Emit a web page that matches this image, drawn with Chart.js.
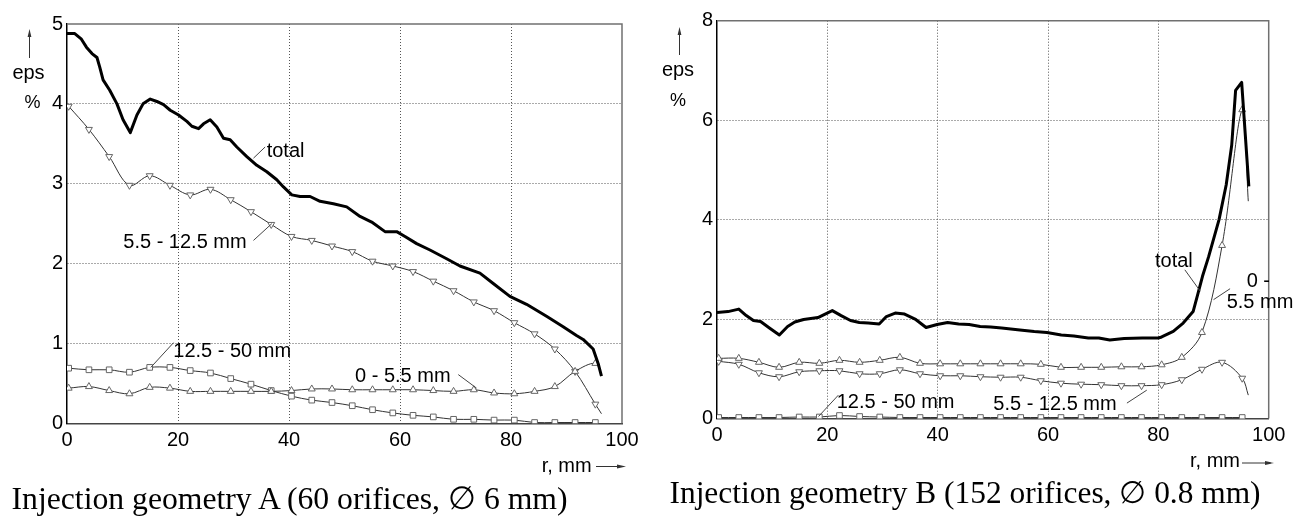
<!DOCTYPE html>
<html><head><meta charset="utf-8">
<script src="https://cdn.jsdelivr.net/npm/chart.js@4.4.0/dist/chart.umd.min.js"></script>
<style>
html,body{margin:0;padding:0;background:#fff;}
body{width:1311px;height:516px;overflow:hidden;position:relative;}
.box{position:absolute;}
.lab{position:absolute;white-space:nowrap;line-height:1;color:#000;font-family:"Liberation Sans",Arial,sans-serif;}
.serif{font-family:"Liberation Serif","Times New Roman",serif;}
svg{position:absolute;left:0;top:0;pointer-events:none;}
</style></head><body>
<div class="box" style="left:0;top:0;width:650px;height:470px"><canvas id="chartA"></canvas></div>
<div class="box" style="left:660px;top:0;width:651px;height:470px"><canvas id="chartB"></canvas></div>
<svg width="1311" height="516">
  <g stroke="#333" stroke-width="1" fill="#333">
    <line x1="29.5" y1="58" x2="29.5" y2="34"/><polygon points="29.5,29 27.6,37 31.4,37" stroke="none"/>
    <line x1="679.5" y1="55" x2="679.5" y2="32"/><polygon points="679.5,27 677.6,35 681.4,35" stroke="none"/>
    <line x1="596" y1="466.5" x2="621" y2="466.5"/><polygon points="626,466.5 617,464.6 617,468.4" stroke="none"/>
    <line x1="1242" y1="463" x2="1269" y2="463"/><polygon points="1274,463 1265,461.1 1265,464.9" stroke="none"/>
  </g>
</svg>
<script>
// ---------- data ----------
const xTicks = [0, 20, 40, 60, 80, 100];
const yTicksA = [0, 1, 2, 3, 4, 5];
const yTicksB = [0, 2, 4, 6, 8];

// radial positions of the marked points (both geometries)
const rMarks = [0.3,3.95,7.6,11.25,14.9,18.55,22.2,25.85,29.5,33.15,36.8,40.45,44.1,47.75,51.4,55.05,58.7,62.35,66,69.65,73.3,76.95,80.6,84.25,87.9,91.55,95.2];
const rEnd = 96.3;

// Geometry A
const a_0_55   = [0.44,0.46,0.41,0.37,0.45,0.44,0.40,0.40,0.40,0.40,0.40,0.41,0.43,0.43,0.42,0.42,0.42,0.42,0.41,0.40,0.42,0.38,0.37,0.40,0.46,0.65,0.75];
const a_0_55_end = 0.60;
const a_55_125 = [3.97,3.68,3.34,2.98,3.10,2.98,2.86,2.93,2.80,2.65,2.49,2.34,2.29,2.22,2.15,2.03,1.97,1.90,1.78,1.66,1.52,1.41,1.26,1.12,0.93,0.65,0.24];
const a_55_125_end = 0.12;
const a_125_50 = [0.69,0.67,0.67,0.64,0.70,0.70,0.66,0.63,0.56,0.49,0.41,0.34,0.29,0.26,0.22,0.17,0.13,0.10,0.08,0.05,0.05,0.04,0.04,0.01,0.01,0.01,0.01];
const a_total_r = [0,1.4,2.6,3.5,4.5,5.4,5.9,6.5,7.7,9.0,10.1,11.4,12.6,13.7,15.0,16.2,17.4,18.6,20.1,21.6,22.5,23.7,24.6,25.8,27.0,28.2,29.4,30.6,32.4,34.2,36.0,37.8,39.0,40.5,42.0,43.8,45.6,48.0,50.4,52.8,54.9,57.3,59.4,60.9,63.0,65.4,68.4,70.8,74.4,76.8,79.8,82.8,86.4,89.4,91.8,93.0,94.8,95.7,96.3];
const a_total   = [4.88,4.88,4.81,4.71,4.63,4.58,4.46,4.30,4.17,4.00,3.80,3.64,3.86,4.00,4.06,4.03,3.99,3.92,3.86,3.78,3.72,3.69,3.75,3.80,3.71,3.57,3.55,3.46,3.34,3.23,3.15,3.05,2.96,2.86,2.84,2.84,2.78,2.75,2.71,2.59,2.52,2.40,2.40,2.34,2.25,2.17,2.06,1.97,1.88,1.75,1.59,1.49,1.34,1.21,1.10,1.05,0.93,0.75,0.59];

// Geometry B
const b_0_55   = [1.21,1.21,1.13,1.03,1.13,1.11,1.17,1.13,1.17,1.23,1.11,1.10,1.10,1.10,1.10,1.10,1.09,1.03,1.03,1.03,1.04,1.04,1.08,1.23,1.73,3.48,6.21];
const b_0_55_end = 4.37;
const b_55_125 = [1.15,1.09,0.92,0.84,0.94,0.96,0.96,0.90,0.90,0.98,0.90,0.86,0.86,0.84,0.83,0.83,0.76,0.71,0.69,0.68,0.66,0.66,0.68,0.78,0.99,1.13,0.81];
const b_55_125_end = 0.47;
const b_125_50 = [0.02,0.02,0.02,0.02,0.03,0.03,0.06,0.04,0.03,0.02,0.02,0.02,0.02,0.02,0.02,0.02,0.02,0.02,0.02,0.02,0.02,0.02,0.02,0.02,0.02,0.02,0.02];
const b_total_r = [0,2.0,3.95,5.3,6.6,7.9,9.5,11.3,12.8,14.1,15.7,18.3,19.6,20.9,22.5,24.2,25.8,27.4,29.4,30.7,32.3,34.0,35.9,37.9,39.9,41.8,43.8,45.7,47.7,49.6,51.6,54.9,57.5,59.8,62.4,64.7,67.3,69.2,71.2,73.8,77.1,80.0,80.6,82.7,84.5,86.3,87.2,88.0,89.1,91.0,92.3,93.3,94.0,95.1,96.4];
const b_total   = [2.13,2.15,2.20,2.07,1.97,1.95,1.82,1.68,1.85,1.94,1.99,2.03,2.10,2.17,2.07,1.97,1.93,1.92,1.90,2.05,2.12,2.10,2.00,1.83,1.89,1.93,1.90,1.89,1.85,1.84,1.82,1.78,1.75,1.73,1.68,1.66,1.62,1.62,1.58,1.61,1.62,1.62,1.64,1.75,1.92,2.15,2.52,2.86,3.25,4.00,4.70,5.50,6.60,6.76,4.67];

// leader lines (data coordinates: [r, eps])
const leadersA = [
  [[33.6,3.32],[35.7,3.46]],
  [[33.6,2.29],[36.9,2.50]],
  [[15.1,0.70],[19.2,1.01]],
  [[70.5,0.61],[73.8,0.44]]
];
const leadersB = [
  [[84.8,2.99],[87.6,2.56]],
  [[90.0,2.39],[93.0,2.61]],
  [[18.4,0.04],[22.0,0.47]],
  [[74.3,0.31],[77.9,0.57]]
];

// text labels: [text, x, baseline, size, align, serif]
const labels = [
  ['total', 266.7, 156.7, 20, 'left'],
  ['5.5 - 12.5 mm', 123.3, 248.3, 20, 'left'],
  ['12.5 - 50 mm', 173.3, 356.7, 20, 'left'],
  ['0 - 5.5 mm', 355, 381.7, 20, 'left'],
  ['eps', 28.5, 78.5, 20, 'center'],
  ['%', 32.5, 108.3, 18, 'center'],
  ['r, mm', 541.7, 471.5, 20, 'left'],
  ['total', 1155, 266.7, 20, 'left'],
  ['0 -', 1246.7, 286.7, 20, 'left'],
  ['5.5 mm', 1226.7, 308.3, 20, 'left'],
  ['12.5 - 50 mm', 836.7, 408.3, 20, 'left'],
  ['5.5 - 12.5 mm', 993.3, 410, 20, 'left'],
  ['eps', 678, 75.5, 20, 'center'],
  ['%', 678, 106.7, 18, 'center'],
  ['r, mm', 1190, 467, 20, 'left'],
  ['Injection geometry A (60 orifices, \u2205 6 mm)', 11.5, 510, 31.7, 'left', true],
  ['Injection geometry B (152 orifices, \u2205 0.8 mm)', 669.5, 503.5, 31.4, 'left', true]
];

// ---------- build ----------
labels.forEach(l => {
  const [t, x, b, s, al, serif] = l;
  const d = document.createElement('div');
  d.className = 'lab' + (serif ? ' serif' : '');
  d.textContent = t;
  d.style.fontSize = s + 'px';
  d.style.top = (b - s * (serif ? 0.8375 : 0.8465)) + 'px';
  d.style.left = x + 'px';
  if (al === 'center') d.style.transform = 'translateX(-50%)';
  document.body.appendChild(d);
});

function markerSeries(vs, endV, style, rot) {
  const data = rMarks.map((r, i) => ({x: r, y: vs[i]}));
  const radii = rMarks.map(() => 4);
  if (endV !== undefined) { data.push({x: rEnd, y: endV}); radii.push(0); }
  return {
    data, pointStyle: style, rotation: rot || 0, pointRadius: radii, pointHoverRadius: radii,
    pointBorderColor: '#666', pointBackgroundColor: '#fff', pointBorderWidth: 1,
    borderColor: '#333', borderWidth: 1, tension: 0.35, fill: false
  };
}
function totalSeries(rs, vs) {
  return {data: rs.map((r, i) => ({x: r, y: vs[i]})), borderColor: '#000', borderWidth: 3,
          pointRadius: 0, tension: 0, fill: false, borderJoinStyle: 'round', borderCapStyle: 'butt'};
}

const framePlugin = {
  id: 'frame',
  beforeDatasetsDraw(chart) {
    const {ctx, chartArea: a} = chart;
    ctx.save();
    ctx.lineWidth = 1.5; ctx.strokeStyle = '#707070';
    ctx.beginPath(); ctx.moveTo(a.left, a.top); ctx.lineTo(a.right, a.top); ctx.lineTo(a.right, a.bottom); ctx.stroke();
    ctx.restore();
  }
};
function leaderPlugin(list) {
  return {
    id: 'leaders',
    afterDatasetsDraw(chart) {
      const {ctx} = chart, xs = chart.scales.x, ys = chart.scales.y;
      ctx.save(); ctx.strokeStyle = '#444'; ctx.lineWidth = 1;
      list.forEach(([p, q]) => {
        ctx.beginPath();
        ctx.moveTo(xs.getPixelForValue(p[0]), ys.getPixelForValue(p[1]));
        ctx.lineTo(xs.getPixelForValue(q[0]), ys.getPixelForValue(q[1]));
        ctx.stroke();
      });
      ctx.restore();
    }
  };
}

function makeChart(id, datasets, ymax, yTicks, yWidth, pad, leaders) {
  const gridColor = max => c => (c.tick && (c.tick.value === 0 || c.tick.value === max)) ? 'rgba(0,0,0,0)' : '#555';
  return new Chart(document.getElementById(id), {
    type: 'line',
    data: {datasets},
    options: {
      responsive: true, maintainAspectRatio: false, animation: false, devicePixelRatio: 1,
      layout: {padding: pad},
      plugins: {legend: {display: false}, tooltip: {enabled: false}},
      scales: {
        x: {
          type: 'linear', min: 0, max: 100,
          afterBuildTicks: s => { s.ticks = xTicks.map(v => ({value: v})); },
          afterFit: s => { s.height = 30; },
          grid: {drawTicks: false, color: gridColor(100), lineWidth: 1},
          border: {color: '#444', width: 1.5, dash: [1, 2]},
          ticks: {font: {family: 'Liberation Sans', size: 20}, color: '#000', padding: 5, maxRotation: 0, autoSkip: false}
        },
        y: {
          type: 'linear', min: 0, max: ymax,
          afterBuildTicks: s => { s.ticks = yTicks.map(v => ({value: v})); },
          afterFit: s => { s.width = yWidth; },
          grid: {drawTicks: false, color: gridColor(ymax), lineWidth: 1},
          border: {color: '#000', width: 1.5, dash: [1, 2]},
          ticks: {font: {family: 'Liberation Sans', size: 20}, color: '#000', padding: 4}
        }
      }
    },
    plugins: [framePlugin, leaderPlugin(leaders)]
  });
}

makeChart('chartA', [
  totalSeries(a_total_r, a_total),
  markerSeries(a_0_55, a_0_55_end, 'triangle', 0),
  markerSeries(a_55_125, a_55_125_end, 'triangle', 180),
  markerSeries(a_125_50, undefined, 'rect', 0)
], 5, yTicksA, 67, {left: 0, top: 24, right: 28, bottom: 16.7}, leadersA);

makeChart('chartB', [
  totalSeries(b_total_r, b_total),
  markerSeries(b_0_55, b_0_55_end, 'triangle', 0),
  markerSeries(b_55_125, b_55_125_end, 'triangle', 180),
  markerSeries(b_125_50, undefined, 'rect', 0)
], 8, yTicksB, 57, {left: 0, top: 20.7, right: 42.3, bottom: 21.5}, leadersB);
</script>
</body></html>
